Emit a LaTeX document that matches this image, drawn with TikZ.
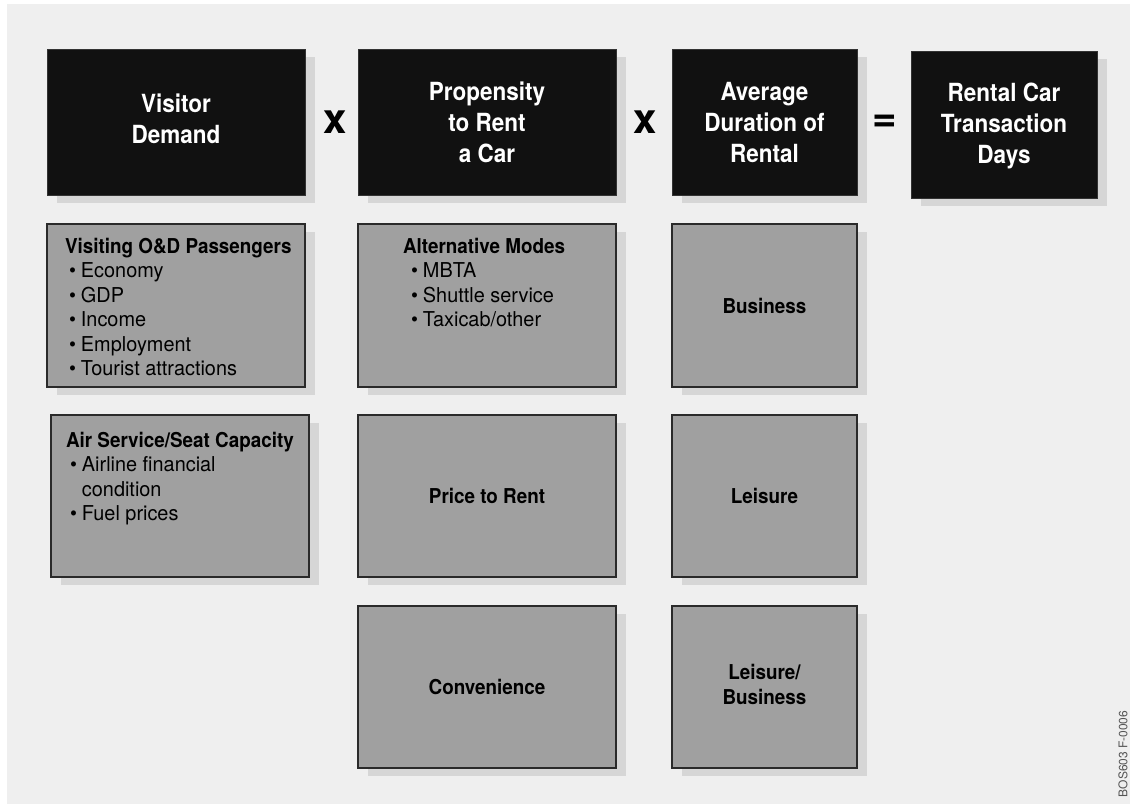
\documentclass[tikz,border=0pt]{standalone}
\usepackage{fontspec}
\setmainfont{TeX Gyre Heros}
\newfontfamily\cfr{TeX Gyre Heros}[FakeStretch=0.97]
\newfontfamily\cfb{TeX Gyre Heros}[FakeStretch=0.92]
\newfontfamily\cft{TeX Gyre Heros}[FakeStretch=0.9]
\usetikzlibrary{shadows}
\definecolor{bggray}{HTML}{EFEFEF}
\definecolor{boxblack}{HTML}{111111}
\definecolor{boxgray}{HTML}{A0A0A0}
\definecolor{edgegray}{HTML}{2A2A2A}
\definecolor{shadowgray}{HTML}{D6D6D6}
\definecolor{codegray}{HTML}{555555}
\tikzset{
  every node/.style={inner sep=0pt, outer sep=0pt},
  boxshadow/.style={drop shadow={shadow xshift=10pt, shadow yshift=-8pt, fill=shadowgray, opacity=1}},
  titlebox/.style={boxshadow, draw=black!80, line width=0.8pt, fill=boxblack, text=white,
    font=\cft\bfseries\fontsize{25}{31}\selectfont},
  factorbox/.style={boxshadow, draw=edgegray, line width=1.6pt, fill=boxgray, text=black,
    font=\cfb\bfseries\fontsize{20.5}{24.5}\selectfont},
  listtext/.style={anchor=base west, text=black, font=\cfr\fontsize{20.5}{24.5}\selectfont},
  opsym/.style={text=black, font=\bfseries\fontsize{42}{42}\selectfont},
}
\newcommand{\hd}[1]{{\cfb\bfseries #1}}
\newcommand{\itm}[1]{\textbullet\hspace{5pt}#1}
\begin{document}
\begin{tikzpicture}[x=1pt,y=-1pt]
\useasboundingbox (0,0) rectangle (1130,804);
\fill[bggray] (7,4) rectangle (1130,804);

% title row
\node[titlebox, minimum width=258pt, minimum height=146pt] (vd) at (176,122)
  {\begin{tabular}[t]{@{}c@{}}Visitor\\Demand\end{tabular}};
\node[titlebox, minimum width=258pt, minimum height=146pt] (pr) at (487,122)
  {\begin{tabular}[t]{@{}c@{}}\rule{0pt}{27.7pt}Propensity\\to Rent\\a Car\end{tabular}};
\node[titlebox, minimum width=185pt, minimum height=146pt] (ad) at (764.5,122)
  {\begin{tabular}[t]{@{}c@{}}\rule{0pt}{27.7pt}Average\\Duration of\\Rental\end{tabular}};
\node[titlebox, minimum width=186pt, minimum height=147pt] (rc) at (1004,124.5)
  {\begin{tabular}[t]{@{}c@{}}\rule{0pt}{24.7pt}Rental Car\\Transaction\\Days\end{tabular}};

\node[opsym, anchor=base] (op1) at (335,133) {x};
\node[opsym, anchor=base] (op2) at (645,133) {x};
\node[opsym] (op3) at (885,123.5) {=};

% column 1
\node[factorbox, minimum width=258pt, minimum height=163pt] (vp) at (176,305.5) {};
\node[listtext] (vpt) at (65,253) {\begin{tabular}[t]{@{}l@{}}%
  \hd{Visiting O\&D Passengers}\\
  \hspace*{4pt}\itm{Economy}\\
  \hspace*{4pt}\itm{GDP}\\
  \hspace*{4pt}\itm{Income}\\
  \hspace*{4pt}\itm{Employment}\\
  \hspace*{4pt}\itm{Tourist attractions}\end{tabular}};
\node[factorbox, minimum width=258pt, minimum height=162pt] (as) at (180,496) {};
\node[listtext] (ast) at (66,447) {\begin{tabular}[t]{@{}l@{}}%
  \hd{Air Service/Seat Capacity}\\
  \hspace*{4pt}\itm{Airline financial}\\
  \hspace*{4pt}\phantom{\textbullet}\hspace{5pt}condition\\
  \hspace*{4pt}\itm{Fuel prices}\end{tabular}};

% column 2
\node[factorbox, minimum width=258pt, minimum height=163pt] (am) at (487,305.5) {};
\node[listtext] (amt) at (403,253) {\begin{tabular}[t]{@{}l@{}}%
  \hd{Alternative Modes}\\
  \hspace*{8pt}\itm{MBTA}\\
  \hspace*{8pt}\itm{Shuttle service}\\
  \hspace*{8pt}\itm{Taxicab/other}\end{tabular}};
\node[factorbox, minimum width=258pt, minimum height=162pt] (ptr) at (487,496) {Price to Rent};
\node[factorbox, minimum width=258pt, minimum height=162pt] (cv) at (487,687) {Convenience};

% column 3
\node[factorbox, minimum width=185pt, minimum height=163pt] (bu) at (764.5,305.5) {Business};
\node[factorbox, minimum width=185pt, minimum height=162pt] (le) at (764.5,496) {Leisure};
\node[factorbox, minimum width=185pt, minimum height=162pt] (lb) at (764.5,687)
  {\begin{tabular}[t]{@{}c@{}}Leisure/\\Business\end{tabular}};

% figure code
\node[rotate=90, text=codegray, font=\fontsize{12}{12}\selectfont] (code) at (1123,754) {BOS603 F-0006};
\end{tikzpicture}
\end{document}
